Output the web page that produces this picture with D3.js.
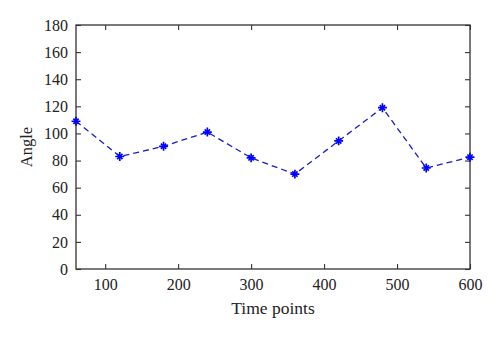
<!DOCTYPE html>
<html>
<head>
<meta charset="utf-8">
<script src="https://cdn.jsdelivr.net/npm/d3@7"></script>
<style>
  html, body { margin: 0; padding: 0; background: #fff; }
  svg { display: block; }
  text { font-family: "Liberation Serif", "DejaVu Serif", serif; fill: #222; }
</style>
</head>
<body>
<svg id="chart" width="500" height="338"></svg>
<script>
// Angle measured at each time point
const timePoints = [60, 120, 180, 240, 300, 360, 420, 480, 540, 600];
const angles = [109, 83, 90.5, 101, 82, 70, 94.5, 119, 74.5, 82.5];
const xTicks = [100, 200, 300, 400, 500, 600];
const yTicks = [0, 20, 40, 60, 80, 100, 120, 140, 160, 180];

const W = 500, H = 338;
const margin = { left: 76, right: 30, top: 25, bottom: 69 };
const svg = d3.select("#chart");

const x = d3.scaleLinear().domain([60, 600]).range([margin.left, W - margin.right]);
const y = d3.scaleLinear().domain([0, 180]).range([H - margin.bottom, margin.top]);

const axisColor = "#333";
const tickLen = 5;

// Box frame around the plot area
svg.append("rect")
  .attr("x", x(60)).attr("y", y(180))
  .attr("width", x(600) - x(60)).attr("height", y(0) - y(180))
  .attr("fill", "none").attr("stroke", axisColor).attr("stroke-width", 1.3);

function styleAxis(g) {
  g.select(".domain").remove();
  g.selectAll(".tick line").attr("stroke", axisColor).attr("stroke-width", 1.1);
  g.selectAll(".tick text").style("font-size", "16px").attr("fill", "#222");
}

// Bottom axis with inward ticks
svg.append("g")
  .attr("transform", `translate(0,${y(0)})`)
  .call(d3.axisBottom(x).tickValues(xTicks).tickSize(-tickLen).tickPadding(10))
  .call(styleAxis);

// Top axis: ticks only
svg.append("g")
  .attr("transform", `translate(0,${y(180)})`)
  .call(d3.axisTop(x).tickValues(xTicks).tickSize(-tickLen).tickFormat(""))
  .call(styleAxis);

// Left axis with inward ticks
svg.append("g")
  .attr("transform", `translate(${x(60)},0)`)
  .call(d3.axisLeft(y).tickValues(yTicks).tickSize(-tickLen).tickPadding(8))
  .call(styleAxis);

// Right axis: ticks only
svg.append("g")
  .attr("transform", `translate(${x(600)},0)`)
  .call(d3.axisRight(y).tickValues(yTicks).tickSize(-tickLen).tickFormat(""))
  .call(styleAxis);

const data = timePoints.map((t, i) => ({ t, a: angles[i] }));

// Dashed series line
svg.append("path")
  .datum(data)
  .attr("fill", "none")
  .attr("stroke", "#1a1ad0")
  .attr("stroke-width", 1.3)
  .attr("stroke-dasharray", "6,4")
  .attr("d", d3.line().x(d => x(d.t)).y(d => y(d.a)));

// Star markers (plus + times)
const plus = d3.symbol().type(d3.symbolPlus).size(28)();
const times = d3.symbol().type(d3.symbolTimes).size(20)();
const m = svg.append("g").selectAll("g").data(data).join("g")
  .attr("transform", d => `translate(${x(d.t)},${y(d.a)})`);
m.append("path").attr("d", plus).attr("fill", "none").attr("stroke", "#0000ff").attr("stroke-width", 1.7);
m.append("path").attr("d", times).attr("fill", "none").attr("stroke", "#0000ff").attr("stroke-width", 1.7);

// Axis titles
svg.append("text")
  .attr("x", (x(60) + x(600)) / 2).attr("y", 314)
  .attr("text-anchor", "middle")
  .style("font-size", "17.5px")
  .text("Time points");

svg.append("text")
  .attr("transform", `translate(32,${(y(0) + y(180)) / 2}) rotate(-90)`)
  .attr("text-anchor", "middle")
  .style("font-size", "16.5px")
  .text("Angle");
</script>
</body>
</html>
